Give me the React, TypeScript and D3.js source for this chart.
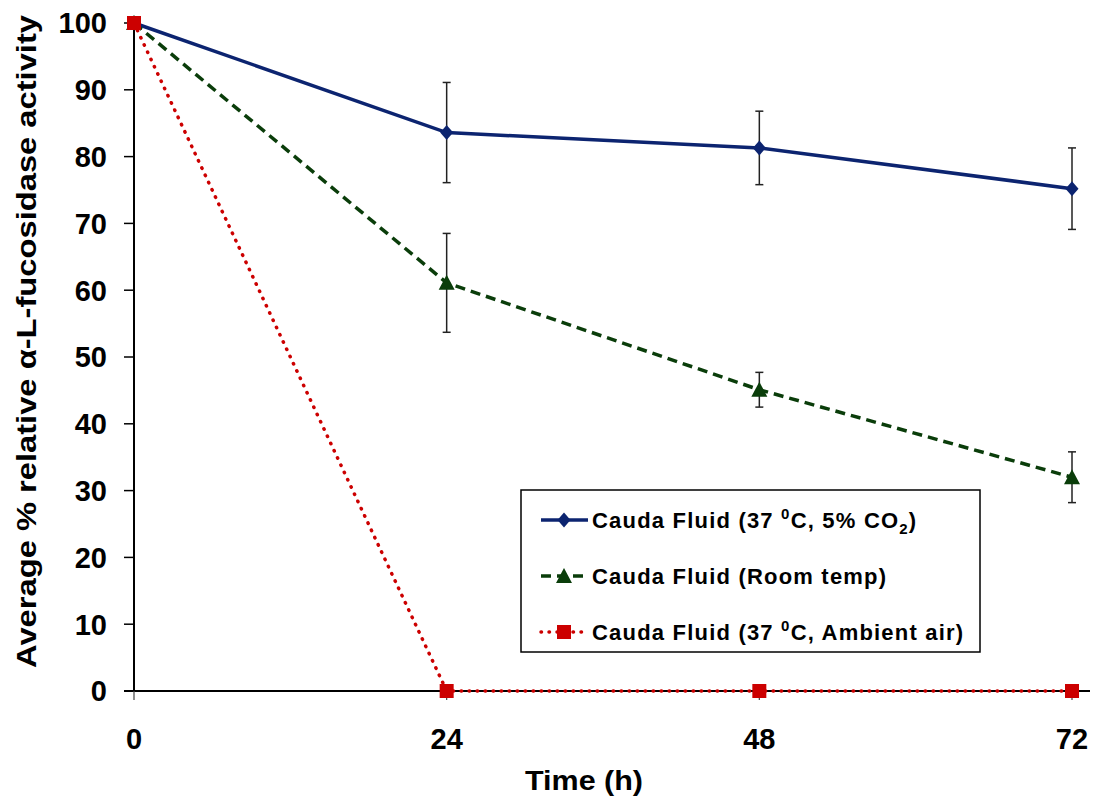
import React, { useEffect, useRef } from "react";
import * as d3 from "d3";

const hours = [0, 24, 48, 72];
const co2Values = [100, 83.6, 81.3, 75.2];
const co2Errors = [0, 7.5, 5.5, 6.1];
const roomValues = [100, 61.1, 45.1, 32.0];
const roomErrors = [0, 7.4, 2.6, 3.8];
const ambientValues = [100, 0, 0, 0];
const ambientErrors = [0, 0, 0, 0];
const yTicks = [0, 10, 20, 30, 40, 50, 60, 70, 80, 90, 100];

const W = 1095;
const H = 801;
const font = "Arial, 'Liberation Sans', sans-serif";

const series = [
  { key: "co2", values: co2Values, errors: co2Errors, color: "#0c2470", dash: null, width: 3.5, marker: "diamond" },
  { key: "room", values: roomValues, errors: roomErrors, color: "#0a3d0a", dash: "10,6", width: 3.5, marker: "triangle" },
  { key: "ambient", values: ambientValues, errors: ambientErrors, color: "#cc0000", dash: "0.5,7.5", width: 3.5, marker: "square" },
];

const drawChart = (el: SVGSVGElement) => {
  const svg = d3.select(el);
  svg.selectAll("*").remove();

  const x = d3.scaleLinear().domain([0, 72]).range([134, 1072]);
  const y = d3.scaleLinear().domain([0, 100]).range([691, 23]);

  // axes
  svg.append("line").attr("x1", 134).attr("x2", 134).attr("y1", y(100)).attr("y2", y(0))
    .attr("stroke", "#000").attr("stroke-width", 2);
  svg.append("line").attr("x1", 124).attr("x2", 1090).attr("y1", y(0)).attr("y2", y(0))
    .attr("stroke", "#000").attr("stroke-width", 2);

  svg.append("g").selectAll("line").data(yTicks).join("line")
    .attr("x1", 124).attr("x2", 134).attr("y1", d => y(d)).attr("y2", d => y(d))
    .attr("stroke", "#000").attr("stroke-width", 1.5);
  svg.append("g").selectAll("text").data(yTicks).join("text")
    .attr("x", 107).attr("y", d => y(d)).attr("dy", "0.36em")
    .attr("text-anchor", "end").attr("font-family", font).attr("font-weight", "bold")
    .attr("font-size", 29).text(d => d);

  svg.append("g").selectAll("line").data(hours).join("line")
    .attr("x1", d => x(d)).attr("x2", d => x(d)).attr("y1", y(0)).attr("y2", y(0) + 9)
    .attr("stroke", "#444").attr("stroke-width", 1.2);
  svg.append("g").selectAll("text").data(hours).join("text")
    .attr("x", d => x(d)).attr("y", 749)
    .attr("text-anchor", "middle").attr("font-family", font).attr("font-weight", "bold")
    .attr("font-size", 29).text(d => d);

  svg.append("text").attr("x", 525).attr("y", 790)
    .attr("font-family", font).attr("font-weight", "bold").attr("font-size", 28)
    .attr("textLength", 118).attr("lengthAdjust", "spacingAndGlyphs").text("Time (h)");
  svg.append("text").attr("transform", "translate(36,668) rotate(-90)")
    .attr("font-family", font).attr("font-weight", "bold").attr("font-size", 28)
    .attr("textLength", 653).attr("lengthAdjust", "spacingAndGlyphs")
    .text("Average % relative α-L-fucosidase activity");

  const line = d3.line<number>().x((_, i) => x(hours[i])).y(d => y(d));

  const markerPath = (kind: string) => {
    if (kind === "diamond") return "M0,-7.5L6.5,0L0,7.5L-6.5,0Z";
    if (kind === "triangle") return "M0,-8L8,7L-8,7Z";
    return "M-7,-7H7V7H-7Z";
  };

  // error bars
  series.forEach(s => {
    const g = svg.append("g");
    s.values.forEach((v, i) => {
      const e = s.errors[i];
      if (!e) return;
      const cx = x(hours[i]);
      g.append("line").attr("x1", cx).attr("x2", cx).attr("y1", y(v + e)).attr("y2", y(v - e))
        .attr("stroke", "#222").attr("stroke-width", 1.5);
      [v + e, v - e].forEach(t => g.append("line").attr("x1", cx - 4).attr("x2", cx + 4)
        .attr("y1", y(t)).attr("y2", y(t)).attr("stroke", "#222").attr("stroke-width", 1.5));
    });
  });

  series.forEach(s => {
    svg.append("path").attr("d", line(s.values)!).attr("fill", "none")
      .attr("stroke", s.color).attr("stroke-width", s.width)
      .attr("stroke-dasharray", s.dash).attr("stroke-linecap", s.marker === "square" ? "round" : "butt");
    svg.append("g").selectAll("path").data(s.values).join("path")
      .attr("transform", (d, i) => `translate(${x(hours[i])},${y(d)})`)
      .attr("d", markerPath(s.marker)).attr("fill", s.color);
  });

  // legend
  const lg = svg.append("g");
  lg.append("rect").attr("x", 521).attr("y", 490).attr("width", 459).attr("height", 162)
    .attr("fill", "#fff").attr("stroke", "#000").attr("stroke-width", 1.5);
  const labels = [
    ["Cauda Fluid (37 ", "0", "C, 5% CO", "2", ")"],
    ["Cauda Fluid (Room temp)"],
    ["Cauda Fluid (37 ", "0", "C, Ambient air)"],
  ];
  const rowY = [520, 576, 632];
  series.forEach((s, i) => {
    const ry = rowY[i];
    lg.append("line").attr("x1", 541).attr("x2", 588).attr("y1", ry).attr("y2", ry)
      .attr("stroke", s.color).attr("stroke-width", s.width).attr("stroke-dasharray", s.dash)
      .attr("stroke-linecap", s.marker === "square" ? "round" : "butt");
    lg.append("path").attr("transform", `translate(564,${ry})`).attr("d", markerPath(s.marker))
      .attr("fill", s.color);
    const t = lg.append("text").attr("x", 592).attr("y", ry).attr("dy", "0.36em")
      .attr("font-family", font).attr("font-weight", "bold").attr("font-size", 22)
      .attr("letter-spacing", 1.2);
    labels[i].forEach((part, j) => {
      const ts = t.append("tspan").text(part);
      if (part === "0") ts.attr("dy", -9).attr("font-size", 15);
      else if (part === "2") ts.attr("dy", 6).attr("font-size", 15);
      else if (j > 0) ts.attr("dy", labels[i][j - 1] === "0" ? 9 : -6);
    });
  });
};

const App = () => {
  const ref = useRef<SVGSVGElement>(null);
  useEffect(() => {
    if (ref.current) drawChart(ref.current);
  }, []);
  return (
    <div style={{ position: "absolute", left: 0, top: 0, background: "#fff" }}>
      <svg ref={ref} width={W} height={H} style={{ display: "block" }} />
    </div>
  );
};

export default App;
